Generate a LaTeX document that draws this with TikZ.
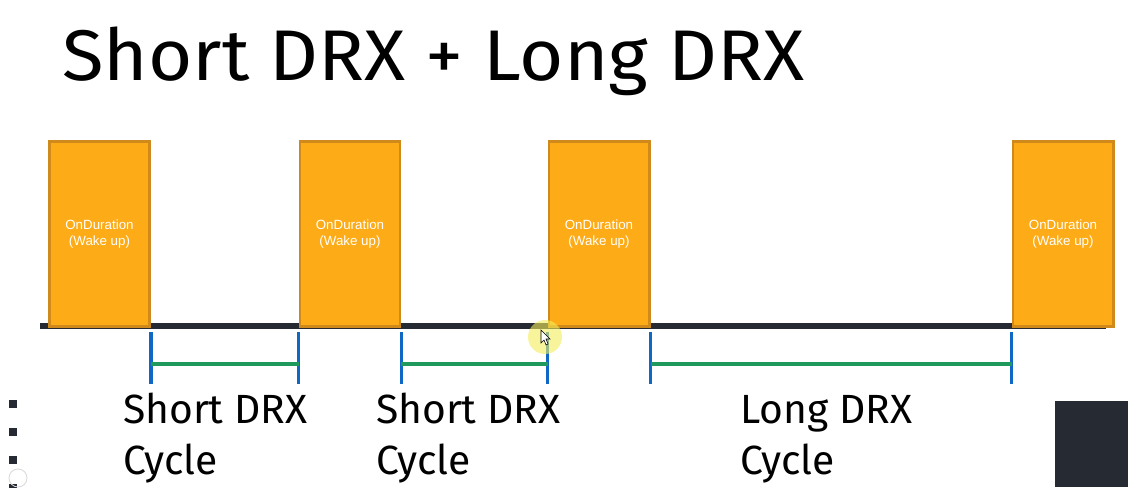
\documentclass[tikz,border=0pt]{standalone}
\usepackage{fontspec}
\setmainfont{Fira Sans}
\newfontfamily\boxfont{Liberation Sans}
\usetikzlibrary{positioning,calc}
\definecolor{WakeOrange}{HTML}{FDAB17}
\definecolor{WakeEdge}{HTML}{D08A1C}
\definecolor{AxisDark}{HTML}{262A33}
\definecolor{TickBlue}{HTML}{1068C4}
\definecolor{SpanGreen}{HTML}{1F9A5C}
\definecolor{GlowYellow}{HTML}{F3EE5A}

\begin{document}
\begin{tikzpicture}[x=0.025cm, y=-0.025cm,
    onbox/.style={draw=WakeEdge, line width=2.1pt, fill=WakeOrange, inner sep=0pt,
      minimum width=2.5cm, minimum height=4.625cm, text=white, align=center,
      font=\boxfont\fontsize{9.5}{11.5}\selectfont},
    tick/.style={draw=TickBlue, line width=2.8pt},
    span/.style={draw=SpanGreen, line width=2.6pt},
    cyclelabel/.style={anchor=base west, inner sep=0pt, align=left,
      font=\fontsize{29}{36}\selectfont}]
  \useasboundingbox[fill=white] (0,0) rectangle (1128,487);

  % title
  \node[anchor=base west, inner sep=0pt, font=\fontsize{51}{60}\selectfont] (title)
    at (62,80) {\scalebox{1.06}[1]{Short DRX + Long DRX}};

  % time axis
  \coordinate (axisL) at (40,326);
  \coordinate (axisR) at (1106,326);
  \draw[AxisDark, line width=4.3pt] (axisL) -- (axisR);

  % on durations
  \node[onbox] (on1) at (99.5,234) {OnDuration\\(Wake up)};
  \node[onbox] (on2) at (350,234) {OnDuration\\(Wake up)};
  \node[onbox] (on3) at (599,234) {OnDuration\\(Wake up)};
  \node[onbox] (on4) at (1063,234) {OnDuration\\(Wake up)};

  % cycle marks
  \foreach \n/\b/\a in {1/on1/south east, 2/on2/south west, 3/on2/south east,
                        4/on3/south west, 5/on3/south east, 6/on4/south west} {
    \path (\b.\a) ++(0,4) coordinate (top\n) ++(0,32) coordinate (g\n) ++(0,20) coordinate (bot\n);
    \draw[tick] (top\n) -- (bot\n);
  }
  \draw[span] (g1) -- (g2);
  \draw[span] (g3) -- (g4);
  \draw[span] (g5) -- (g6);

  \node[cyclelabel] (lab1) at (123,474) {Short DRX\\Cycle};
  \node[cyclelabel] (lab2) at (376,474) {Short DRX\\Cycle};
  \node[cyclelabel] (lab3) at (740,474) {Long DRX\\Cycle};

  % pointer
  \fill[GlowYellow, opacity=0.6] (545,337) circle (17);
  \draw[black, fill=white, line width=0.4pt] (541,330) -- (541,343) -- (544,340)
    -- (546,345) -- (548,344) -- (546,339) -- (550,339) -- cycle;

  % slide furniture
  \foreach \y in {400,428,456,484}
    \fill[AxisDark] (9,\y) rectangle (17,\y+8);
  \draw[black!15, line width=0.6pt] (18,478) circle (9);
  \fill[AxisDark] (1055,401) rectangle (1128,487);
\end{tikzpicture}
\end{document}
